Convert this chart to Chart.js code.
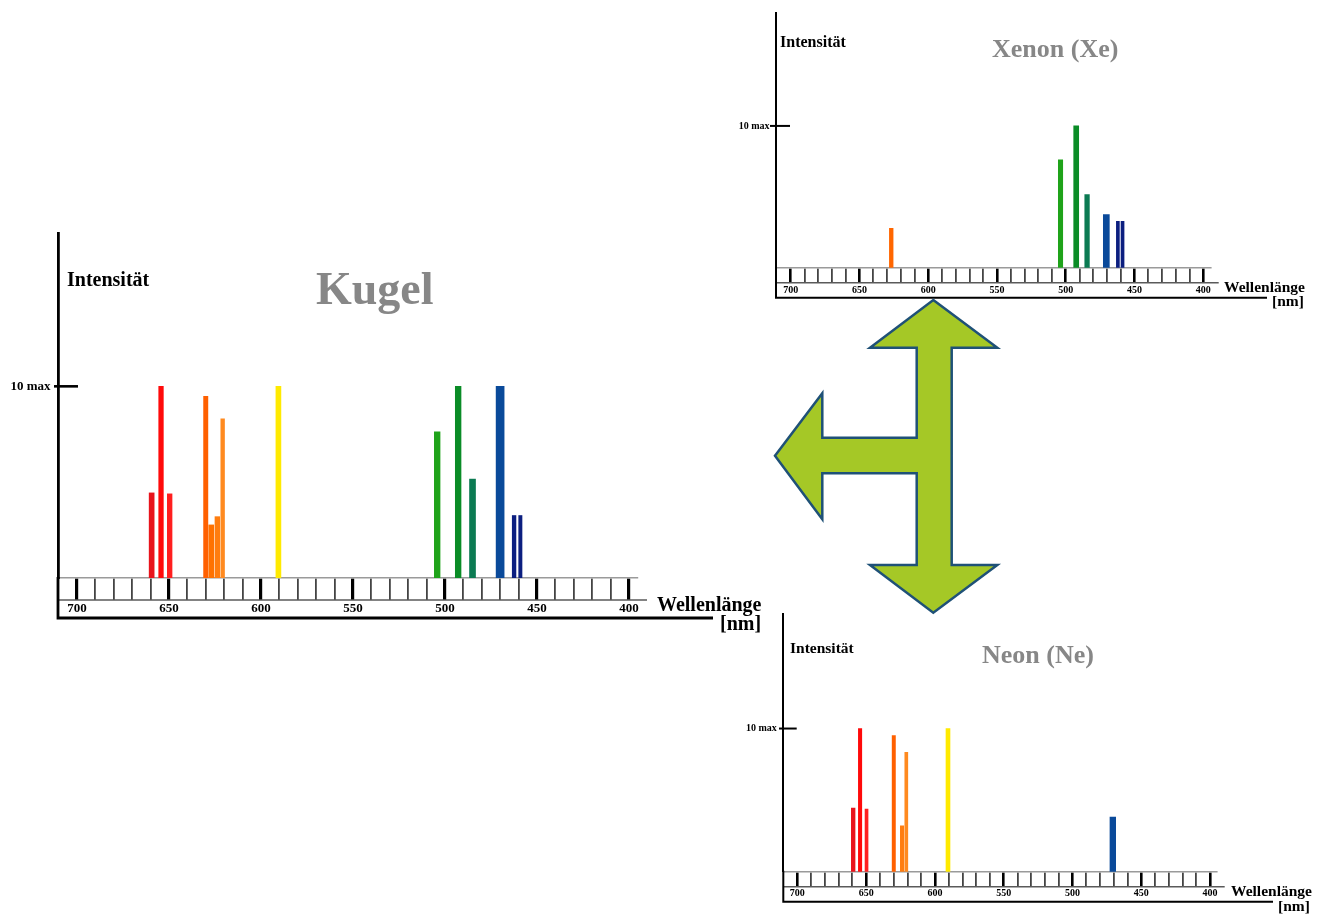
<!DOCTYPE html>
<html lang="de">
<head>
<meta charset="utf-8">
<title>Spektrallinien: Kugel, Xenon, Neon</title>
<script src="https://cdn.jsdelivr.net/npm/chart.js@4.4.1/dist/chart.umd.min.js"></script>
<style>
  html, body { margin: 0; padding: 0; background: #fff; }
  body { position: relative; width: 1323px; height: 915px; overflow: hidden;
         font-family: 'Liberation Serif', 'Times New Roman', serif; font-weight: bold; }
  canvas { position: absolute; }
  .lbl { position: absolute; line-height: 1; white-space: nowrap; color: #000; }
  .title { color: #878787; }
  #arrow { position: absolute; left: 0; top: 0; pointer-events: none; }
</style>
</head>
<body>
<canvas id="kugelChart" width="780" height="440" style="left:0;top:200px"></canvas>
<canvas id="xenonChart" width="623" height="320" style="left:700px;top:0"></canvas>
<canvas id="neonChart" width="623" height="315" style="left:700px;top:600px"></canvas>

<!-- Kugel -->
<div class="lbl" style="left:67px;top:269px;font-size:20px">Intensität</div>
<div class="lbl title" style="left:316px;top:266px;font-size:46px">Kugel</div>
<div class="lbl" style="left:657px;top:594px;font-size:20px">Wellenlänge</div>
<div class="lbl" style="left:720px;top:613px;font-size:20px">[nm]</div>

<!-- Xenon -->
<div class="lbl" style="left:780px;top:34px;font-size:16px">Intensität</div>
<div class="lbl title" style="left:992px;top:36px;font-size:26px">Xenon (Xe)</div>
<div class="lbl" style="left:1224px;top:279px;font-size:15.5px">Wellenlänge</div>
<div class="lbl" style="left:1272px;top:293px;font-size:15.5px">[nm]</div>

<!-- Neon -->
<div class="lbl" style="left:790px;top:640px;font-size:15.5px">Intensität</div>
<div class="lbl title" style="left:982px;top:642px;font-size:26px">Neon (Ne)</div>
<div class="lbl" style="left:1231px;top:883px;font-size:15.5px">Wellenlänge</div>
<div class="lbl" style="left:1278px;top:898px;font-size:15.5px">[nm]</div>

<svg id="arrow" width="1323" height="915">
  <polygon points="933.3,300 997.3,347.7 951.7,347.7 951.7,565 997.3,565 933.3,612.7 870,565 916.7,565 916.7,473.3 822.3,473.3 822.3,519.3 775,455.7 822.3,393.3 822.3,437.7 916.7,437.7 916.7,347.7 870,347.7"
           fill="#a5c826" stroke="#1f5177" stroke-width="2.5" stroke-linejoin="miter"/>
</svg>

<script>
// Wellenlängen in nm, Intensität relativ (10 = max)
const kugelWavelengths = [659.4, 654.3, 649.6, 630.0, 627.0, 623.7, 620.8, 590.5, 504.2, 492.8, 485.0, 470.0, 462.4, 459.0];
const kugelIntensity   = [4.44, 10, 4.39, 9.48, 2.77, 3.2, 8.31, 10, 7.62, 10, 5.16, 10, 3.26, 3.26];

const xenonWavelengths = [626.9, 503.8, 492.4, 484.5, 470.5, 462.1, 458.7];
const xenonIntensity   = [2.78, 7.61, 10, 5.15, 3.74, 3.27, 3.27];

const neonWavelengths = [659.4, 654.4, 649.7, 629.9, 623.9, 620.8, 590.5, 470.7];
const neonIntensity   = [4.44, 10, 4.37, 9.51, 3.2, 8.34, 10, 3.81];

const tickLabels = [700, 650, 600, 550, 500, 450, 400];

// Farben und Linienbreiten (px) je Linie
const kugelColors = ['#e8141c', '#ff0a0a', '#ff1f1f', '#ff6000', '#ff7200', '#ff7d0f', '#ff8a1f', '#ffea00',
                     '#1fa31a', '#0a8c26', '#0b7a52', '#0a4a9a', '#0c1f80', '#0c1f80'];
const kugelWidths = [5, 4.6, 4.7, 4.3, 5, 4.7, 3.7, 5, 5.7, 5.7, 6, 8, 3.7, 3.3];

const xenonColors = ['#ff6600', '#1fa31a', '#0a8c26', '#0b7a52', '#0a4a9a', '#0c1f80', '#0c1f80'];
const xenonWidths = [3.7, 4.4, 5, 4.6, 6, 3, 3];

const neonColors = ['#e8141c', '#ff0a0a', '#ff1f1f', '#ff6000', '#ff7d0f', '#ff8a1f', '#ffea00', '#0a4a9a'];
const neonWidths = [3.7, 3.4, 3, 3.3, 3.4, 3, 4, 5.7];

// Skalenleiste: ein Feld je 10 nm
const cellTicks = [];
for (let v = 400; v <= 700; v += 10) cellTicks.push(v);

const framePlugin = {
    id: 'spectrumFrame',
    afterDraw(chart, args, opts) {
        const { ctx, chartArea: a } = chart;
        const yTen = chart.scales.y.getPixelForValue(10);
        ctx.save();
        // untere Kante der Skalenleiste
        ctx.strokeStyle = '#5a5a5a';
        ctx.lineWidth = 1.6;
        ctx.beginPath();
        ctx.moveTo(a.left, a.bottom + opts.stripDepth);
        ctx.lineTo(a.right + opts.stripOverhang, a.bottom + opts.stripDepth);
        ctx.stroke();
        // Achsenrahmen
        ctx.strokeStyle = '#000';
        ctx.lineWidth = opts.frameWidth;
        ctx.beginPath();
        ctx.moveTo(a.left, a.bottom - 1);
        ctx.lineTo(a.left, a.bottom + opts.frameDepth);
        ctx.lineTo(opts.frameRight, a.bottom + opts.frameDepth);
        ctx.stroke();
        // Markierung "10 max"
        ctx.lineWidth = opts.markWidth;
        ctx.beginPath();
        ctx.moveTo(a.left - opts.markOuter, yTen);
        ctx.lineTo(a.left + opts.markInner, yTen);
        ctx.stroke();
        ctx.restore();
    }
};

class SpectrumChart {
    constructor(canvasId, wavelengths, intensity, colors, widths, layout) {
        this.canvasId = canvasId;
        this.wavelengths = wavelengths;
        this.intensity = intensity;
        this.colors = colors;
        this.widths = widths;
        this.layout = layout;
        this.chart = null;
        this.setupChart();
    }

    buildDatasets() {
        return this.wavelengths.map((wl, i) => ({
            data: [{ x: wl, y: this.intensity[i] }],
            backgroundColor: this.colors[i],
            barThickness: this.widths[i],
            borderWidth: 0,
            grouped: false
        }));
    }

    setupChart() {
        const l = this.layout;
        const ctx = document.getElementById(this.canvasId).getContext('2d');
        this.chart = new Chart(ctx, {
            type: 'bar',
            data: { datasets: this.buildDatasets() },
            plugins: [framePlugin],
            options: {
                responsive: false,
                animation: false,
                layout: { padding: l.padding },
                plugins: {
                    legend: { display: false },
                    tooltip: { enabled: false },
                    spectrumFrame: l.frame
                },
                scales: {
                    x: {
                        type: 'linear',
                        reverse: true,
                        min: l.xMin,
                        max: l.xMax,
                        offset: false,
                        afterBuildTicks: (scale) => { scale.ticks = cellTicks.map(v => ({ value: v })); },
                        afterFit: (scale) => { scale.height = l.xHeight; },
                        ticks: {
                            autoSkip: false,
                            maxRotation: 0,
                            minRotation: 0,
                            padding: l.xLabelPad,
                            color: '#000',
                            font: { family: "'Liberation Serif', serif", weight: 'bold', size: l.tickFont },
                            callback: (v) => tickLabels.includes(v) ? String(v) : ''
                        },
                        grid: {
                            offset: false,
                            drawOnChartArea: false,
                            drawTicks: true,
                            tickLength: l.frame.stripDepth,
                            lineWidth: (c) => (c.tick && c.tick.value % 50 === 0) ? l.thickTick : 1.8,
                            color: (c) => (c.tick && c.tick.value % 50 === 0) ? '#000' : '#444'
                        },
                        border: { display: true, color: '#9a9a9a', width: 1.5 }
                    },
                    y: {
                        type: 'linear',
                        min: 0,
                        max: 18,
                        afterBuildTicks: (scale) => { scale.ticks = [{ value: 10 }]; },
                        afterFit: (scale) => { scale.width = l.yWidth; },
                        ticks: {
                            padding: l.yLabelPad,
                            color: '#000',
                            font: { family: "'Liberation Serif', serif", weight: 'bold', size: l.tickFont },
                            callback: () => '10 max'
                        },
                        grid: { display: false, drawTicks: false },
                        border: { display: true, color: '#000', width: l.frame.frameWidth }
                    }
                }
            }
        });
    }
}

new SpectrumChart('kugelChart', kugelWavelengths, kugelIntensity, kugelColors, kugelWidths, {
    padding: { left: 0, top: 33, right: 143, bottom: 22 },
    yWidth: 58, xHeight: 40,
    xMin: 395.6, xMax: 710.3,
    tickFont: 13, xLabelPad: 1, yLabelPad: 7.5, thickTick: 3.2,
    frame: { stripDepth: 22, stripOverhang: 10, frameDepth: 40, frameRight: 713, frameWidth: 2.8,
             markOuter: 4, markInner: 20, markWidth: 2.6 }
});

new SpectrumChart('xenonChart', xenonWavelengths, xenonIntensity, xenonColors, xenonWidths, {
    padding: { left: 0, top: 10, right: 112.3, bottom: 22.3 },
    yWidth: 76, xHeight: 30,
    xMin: 394.6, xMax: 710.7,
    tickFont: 10, xLabelPad: 1.5, yLabelPad: 6.5, thickTick: 2.6,
    frame: { stripDepth: 15, stripOverhang: 8, frameDepth: 30, frameRight: 567, frameWidth: 2,
             markOuter: 6, markInner: 14, markWidth: 2 }
});

new SpectrumChart('neonChart', neonWavelengths, neonIntensity, neonColors, neonWidths, {
    padding: { left: 0, top: 14, right: 106.3, bottom: 13.3 },
    yWidth: 83.3, xHeight: 30,
    xMin: 395.2, xMax: 710.2,
    tickFont: 10, xLabelPad: 1, yLabelPad: 6.5, thickTick: 2.6,
    frame: { stripDepth: 15, stripOverhang: 8, frameDepth: 30, frameRight: 573, frameWidth: 2,
             markOuter: 4.3, markInner: 13.4, markWidth: 2 }
});
</script>
</body>
</html>
